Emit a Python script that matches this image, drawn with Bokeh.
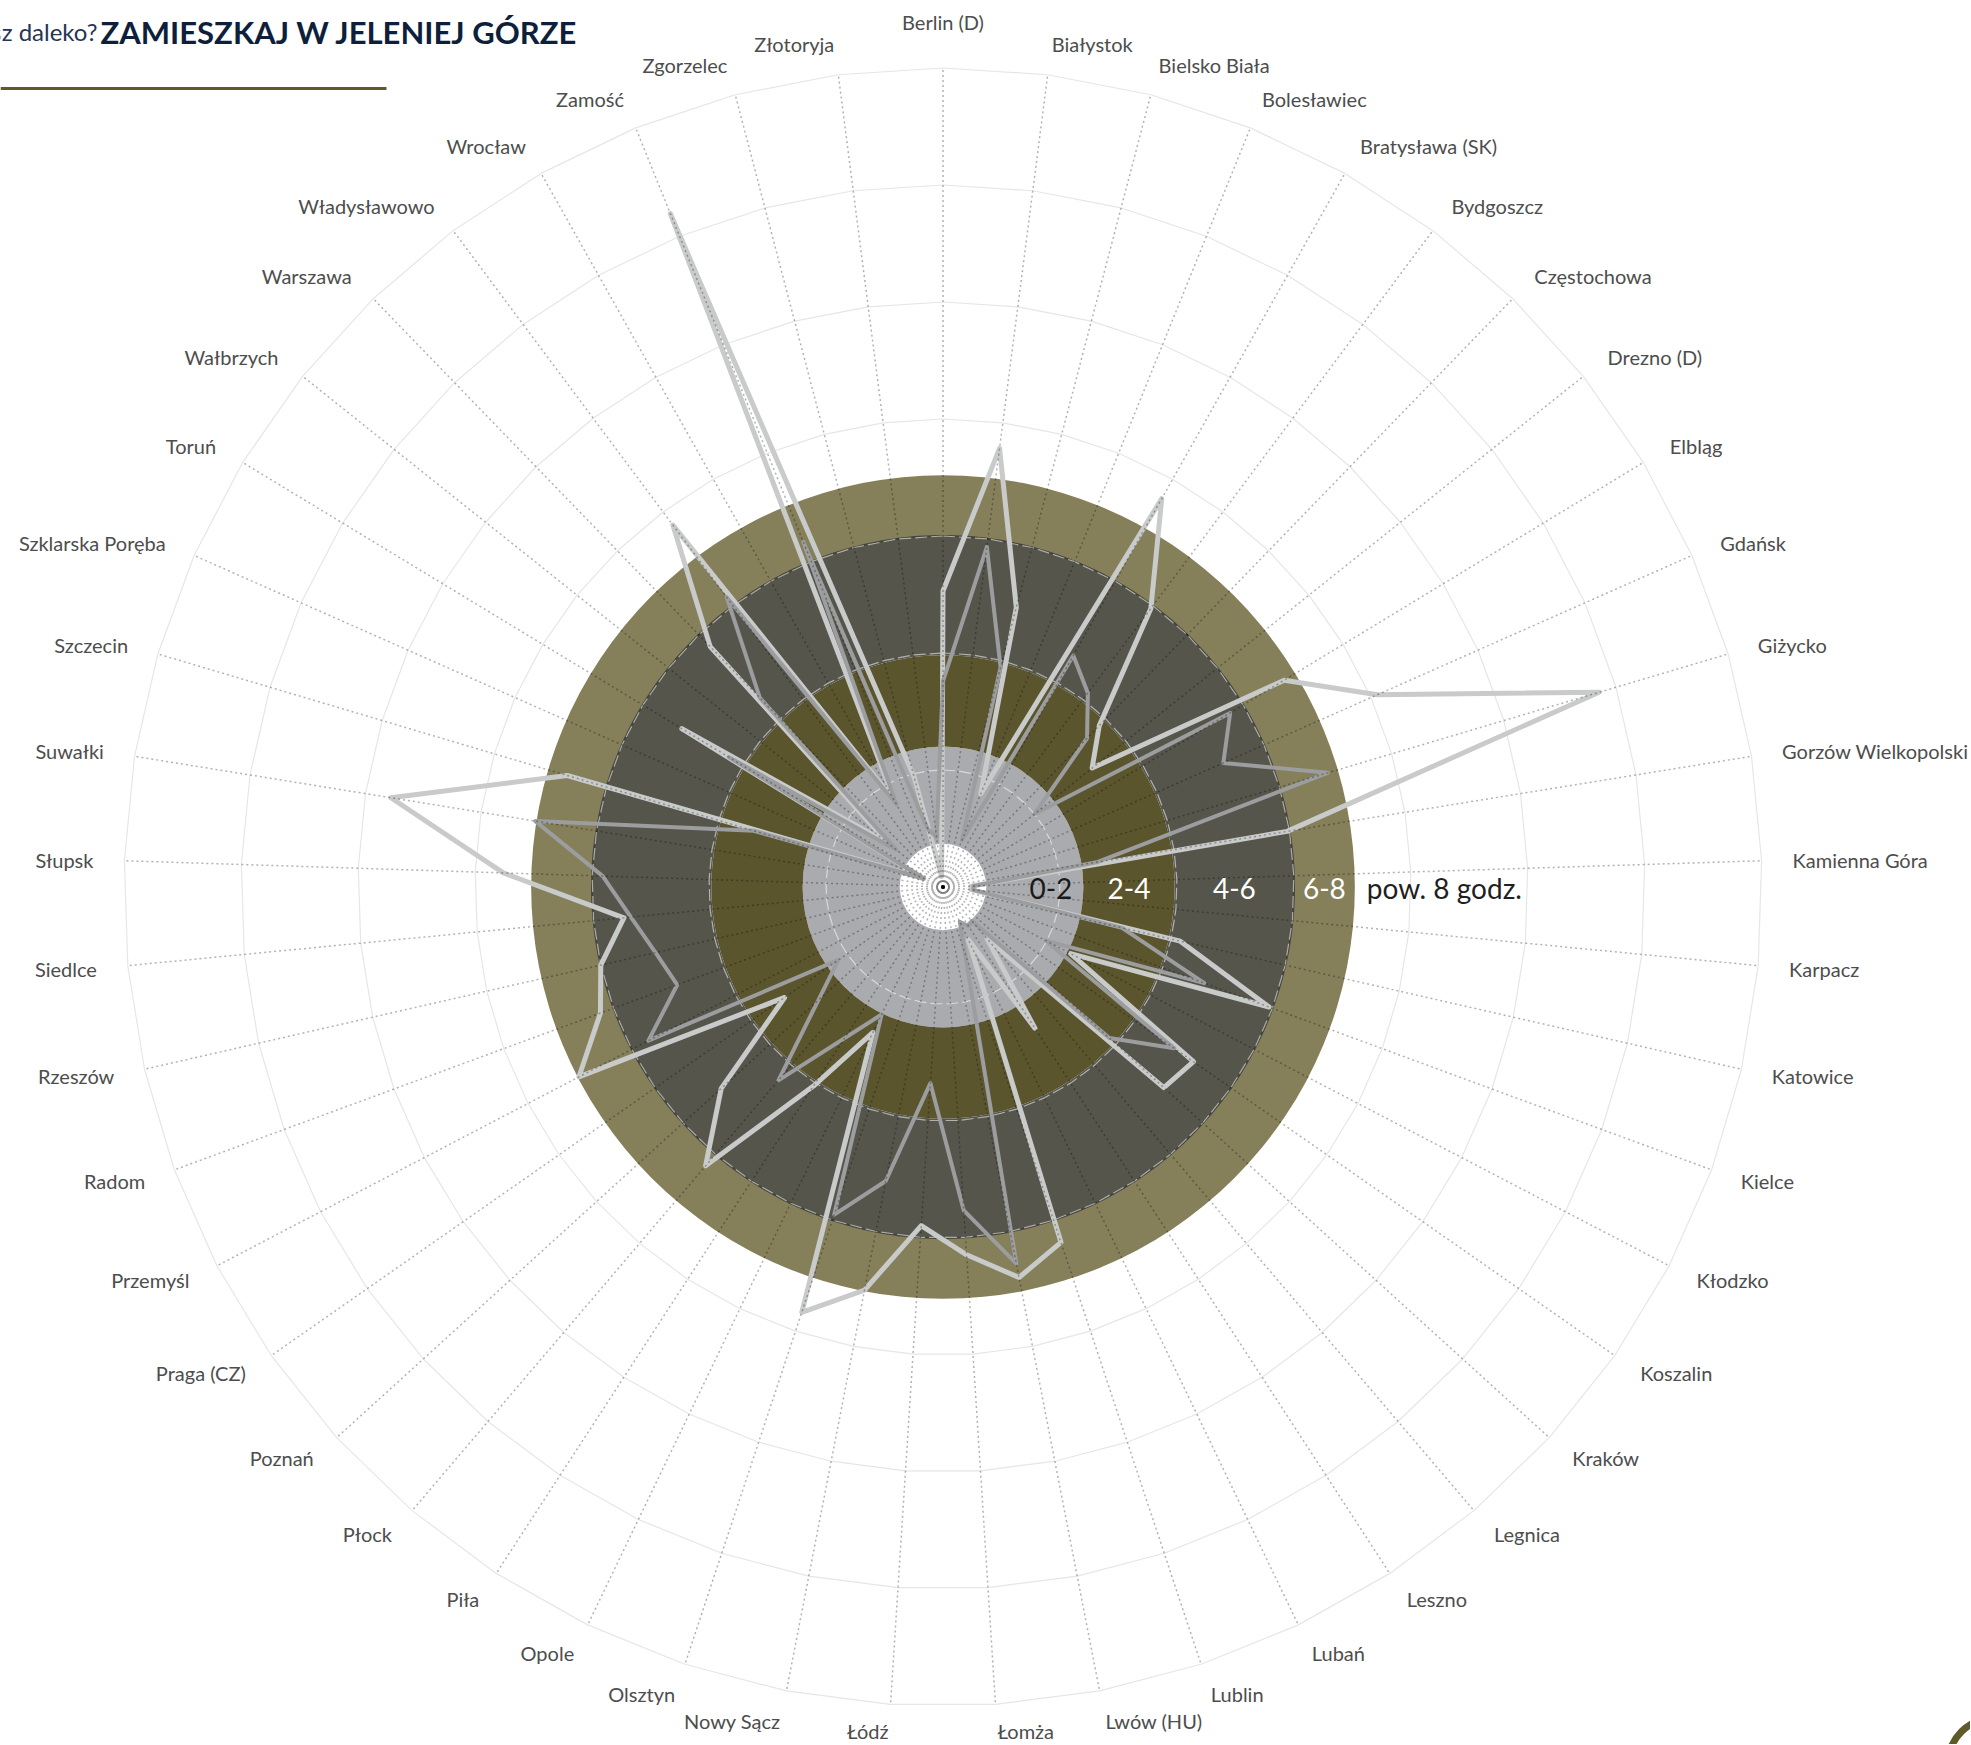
import math
from bokeh.plotting import figure
from bokeh.models import Range1d
from bokeh.embed import file_html
from bokeh.resources import INLINE
from bokeh.core.properties import value

# ---------------- data ----------------
miasta = ["Berlin (D)", "Białystok", "Bielsko Biała", "Bolesławiec", "Bratysława (SK)",
          "Bydgoszcz", "Częstochowa", "Drezno (D)", "Elbląg", "Gdańsk", "Giżycko",
          "Gorzów Wielkopolski", "Kamienna Góra", "Karpacz", "Katowice", "Kielce",
          "Kłodzko", "Koszalin", "Kraków", "Legnica", "Leszno", "Lubań", "Lublin",
          "Lwów (HU)", "Łomża", "Łódź", "Nowy Sącz", "Olsztyn", "Opole", "Piła",
          "Płock", "Poznań", "Praga (CZ)", "Przemyśl", "Radom", "Rzeszów", "Siedlce",
          "Słupsk", "Suwałki", "Szczecin", "Szklarska Poręba", "Toruń", "Wałbrzych",
          "Warszawa", "Władysławowo", "Wrocław", "Zamość", "Zgorzelec", "Złotoryja"]

seria_jasna = [253, 378, 247, 86, 381, 297, 192, 163, 341, 406, 585, 298, 24, 24,
               208, 297, 123, 261, 255, 58, 144, 50, 320, 340, 315, 290, 351, 383,
               138, 203, 313, 256, 165, 351, 312, 300, 274, 376, 478, 335, 18, 261,
               60, 286, 386, 84, 621, 97, 9]

seria_ciemna = [176, 293, 194, 43, 227, 207, 177, 100, 287, 262, 343, 134, 26, 26,
                157, 238, 99, 241, 192, 38, 40, 33, None, 328, 277, 168, 256, 295,
                121, None, 217, None, 109, 284, 242, 252, 268, 291, 353, 169, 18, 214,
                51, 225, 309, 81, 318, 51, 43]

siatka = [100, 200, 300, 400, 500, 600, 700]
pasma_od = [0, 37, 120, 198, 300]
pasma_do = [37, 120, 198, 300, 352]
etykiety_pasm = ["0-2", "2-4", "4-6", "6-8"]
etykieta_zewn = "pow. 8 godz."

# ---------------- styling / geometry ----------------
PX = 1.17                     # pixels per axis unit
W, H = 1970, 1744
CX, CY = 942.5, 886.5         # centre of the polar pane in figure pixels
N = len(miasta)
kolory_pasm = ["#ffffff", "#aaabaf", "#5b552d", "#55554b", "#857f5a"]
kolory_etykiet = ["#1a1a1a", "#ffffff", "#ffffff", "#ffffff"]
FONT = value("Lato")


def kat(i):
    return 2 * math.pi * i / N


def pol(v, i):
    a = kat(i)
    return PX * v * math.sin(a), PX * v * math.cos(a)


p = figure(width=W, height=H, output_backend="svg", toolbar_location=None,
           x_axis_type=None, y_axis_type=None,
           x_range=Range1d(-CX, W - CX), y_range=Range1d(-(H - CY), CY),
           min_border=0, outline_line_color=None, background_fill_color="white",
           border_fill_color="white")
p.grid.visible = False

# polygon grid lines outside bands
for g in siatka:
    xs, ys = zip(*[pol(g, i) for i in range(N)] + [pol(g, 0)])
    if g > pasma_do[-1]:
        p.line(list(xs), list(ys), line_color="#e6e6e6", line_width=1.2)

# bands
for a, b, c in zip(pasma_od, pasma_do, kolory_pasm):
    p.annulus(x=0, y=0, inner_radius=max(a * PX, 0.01), outer_radius=b * PX,
              fill_color=c, line_color=None)

# darker edge of 4-6 band
xs, ys = zip(*[(PX * pasma_do[3] * math.sin(t / 360 * 2 * math.pi),
                PX * pasma_do[3] * math.cos(t / 360 * 2 * math.pi)) for t in range(361)])
p.line(list(xs), list(ys), line_color="#45453e", line_width=2)

# grid lines inside bands (light dashed)
for g in siatka:
    if g <= pasma_do[-1]:
        xs, ys = zip(*[pol(g, i) for i in range(N)] + [pol(g, 0)])
        p.line(list(xs), list(ys), line_color="#ffffff", line_alpha=0.55,
               line_width=1.2, line_dash="12 4")

# series (missing values are skipped, the line joins the neighbours)
for dane, kol, szer in [(seria_jasna, "#c9caca", 5), (seria_ciemna, "#9c9d9f", 4)]:
    pts = [pol(v, i) for i, v in enumerate(dane) if v is not None]
    pts.append(pts[0])
    xs, ys = zip(*pts)
    p.line(list(xs), list(ys), line_color=kol, line_width=szer,
           line_join="round", line_cap="round")

# radial dotted grid lines (on top)
rx, ry = [], []
for i in range(N):
    x1, y1 = pol(siatka[-1], i)
    rx.append([0, x1])
    ry.append([0, y1])
p.multi_line(rx, ry, line_color="#000000", line_alpha=0.3, line_width=1.5,
             line_dash="2 3")

# band labels
przes = [16, 0, 0, 0]
for k, t in enumerate(etykiety_pasm):
    mid = (pasma_od[k + 1] + pasma_do[k + 1]) / 2 * PX + przes[k]
    p.text(x=[mid], y=[-1], text=[t], text_align="center", text_baseline="middle",
           text_font=FONT, text_font_size="28px", text_color=kolory_etykiet[k])
p.text(x=[pasma_do[-1] * PX + 12], y=[-1], text=[etykieta_zewn], text_align="left",
       text_baseline="middle", text_font=FONT, text_font_size="28px",
       text_color="#1f1f1f")

# category labels
RL = 850
ymin = -(H - CY) + 14
grp = {"left": ([], [], []), "right": ([], [], []), "center": ([], [], [])}
for i, m in enumerate(miasta):
    a = kat(i)
    s = math.sin(a)
    x, y = RL * s, RL * math.cos(a)
    if abs(s) < 0.01:
        al = "center"
        y += 15
    elif s > 0:
        al = "left"
    else:
        al = "right"
    y = max(y, ymin)
    grp[al][0].append(x)
    grp[al][1].append(y)
    grp[al][2].append(m)
for al, (xs, ys, ts) in grp.items():
    if ts:
        p.text(x=xs, y=ys, text=ts, text_align=al, text_baseline="middle",
               text_font=FONT, text_font_size="20px", text_color="#4d4d4d")

# title (partly outside the window on the left, as in the original)
p.text(x=[97 - CX], y=[CY - 31], text=["Masz daleko?"], text_align="right",
       text_baseline="middle", text_font=FONT, text_font_size="24px",
       text_color="#253552")
p.text(x=[100 - CX], y=[CY - 31], text=["ZAMIESZKAJ W JELENIEJ GÓRZE"],
       text_align="left", text_baseline="middle", text_font=FONT,
       text_font_size="31px", text_font_style="bold", text_color="#0e1f3b")
p.line(x=[-CX, 386 - CX], y=[CY - 88, CY - 88], line_color="#5f5a2a", line_width=3)

# logo fragment at the bottom-right corner
p.annulus(x=[1995 - CX], y=[CY - 1765], inner_radius=44.5, outer_radius=51.5,
          fill_color="#5f5a28", line_color=None)

open("out.html", "w").write(file_html(p, INLINE))
